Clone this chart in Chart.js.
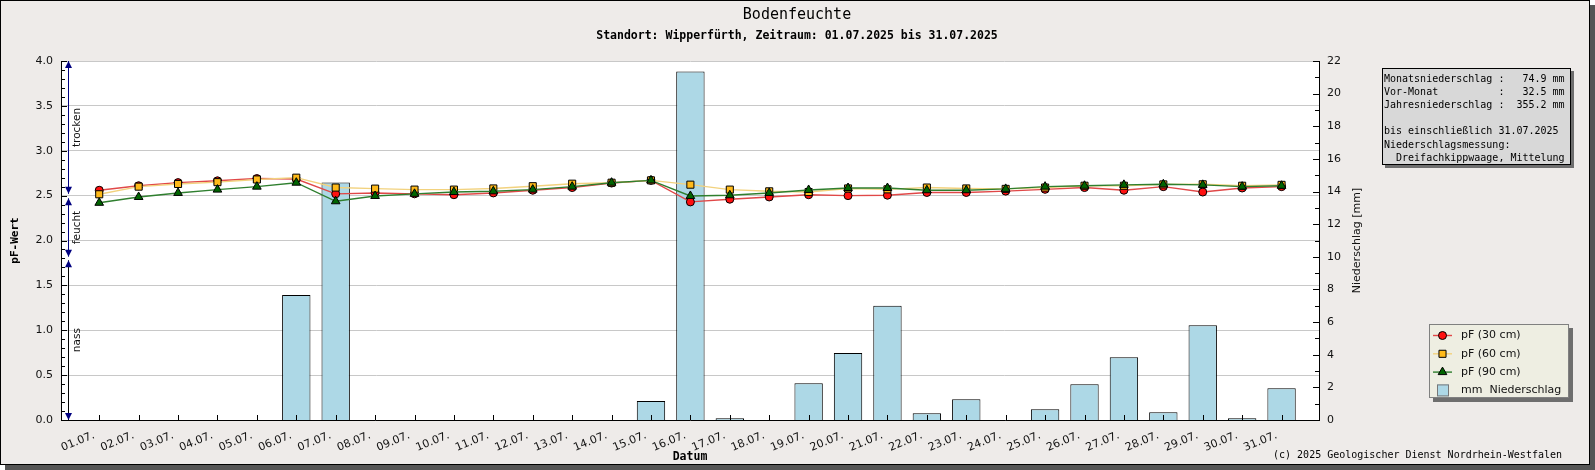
<!DOCTYPE html>
<html>
<head>
<meta charset="utf-8">
<title>Bodenfeuchte Wipperfürth</title>
<script src="https://cdn.jsdelivr.net/npm/chart.js@4.4.1/dist/chart.umd.min.js"></script>
<style>
    html, body { margin: 0; padding: 0; background: #fff; }
    #wrap { width: 1595px; height: 470px; }
</style>
</head>
<body>
<div id="wrap"><canvas id="bodenChart" width="1595" height="470"></canvas></div>
<script>
// Tage im Juli 2025
const days = [1, 2, 3, 4, 5, 6, 7, 8, 9, 10, 11, 12, 13, 14, 15, 16,
              17, 18, 19, 20, 21, 22, 23, 24, 25, 26, 27, 28, 29, 30, 31];
const dayLabels = ['01.07.', '02.07.', '03.07.', '04.07.', '05.07.', '06.07.', '07.07.', '08.07.',
                   '09.07.', '10.07.', '11.07.', '12.07.', '13.07.', '14.07.', '15.07.', '16.07.',
                   '17.07.', '18.07.', '19.07.', '20.07.', '21.07.', '22.07.', '23.07.', '24.07.',
                   '25.07.', '26.07.', '27.07.', '28.07.', '29.07.', '30.07.', '31.07.'];

// pF-Werte je Tiefe
const pf30 = [2.56, 2.61, 2.645, 2.665, 2.69, 2.685, 2.52, 2.53, 2.52, 2.51, 2.53, 2.56, 2.59, 2.64, 2.67, 2.43,
              2.46, 2.485, 2.51, 2.50, 2.505, 2.535, 2.535, 2.55, 2.57, 2.59, 2.56, 2.60, 2.54, 2.585, 2.60];
const pf60 = [2.515, 2.60, 2.63, 2.65, 2.68, 2.70, 2.59, 2.578, 2.567, 2.567, 2.58, 2.605, 2.633, 2.644, 2.67, 2.622,
              2.567, 2.548, 2.54, 2.58, 2.57, 2.59, 2.58, 2.575, 2.59, 2.61, 2.61, 2.625, 2.626, 2.61, 2.62];
const pf90 = [2.42, 2.485, 2.53, 2.567, 2.60, 2.644, 2.437, 2.496, 2.52, 2.54, 2.548, 2.567, 2.60, 2.644, 2.67, 2.496,
              2.504, 2.53, 2.563, 2.585, 2.585, 2.56, 2.56, 2.575, 2.60, 2.61, 2.62, 2.626, 2.62, 2.60, 2.61];

// Niederschlag [mm] pro Tag
const rain = [0, 0, 0, 0, 0, 7.66, 14.56, 0, 0, 0, 0, 0, 0, 0, 1.16, 21.35,
              0.1, 0, 2.25, 4.1, 7.0, 0.41, 1.27, 0, 0.66, 2.19, 3.84, 0.47, 5.8, 0.1, 1.94];

const pfTicks = [0, 0.5, 1.0, 1.5, 2.0, 2.5, 3.0, 3.5, 4.0];
const rainTicks = [0, 2, 4, 6, 8, 10, 12, 14, 16, 18, 20, 22];

// Bereiche am linken Rand (pF von / bis)
const zoneNames = ['trocken', 'feucht', 'nass'];
const zoneTop = [4.0, 2.47, 1.78];
const zoneBottom = [2.52, 1.82, 0.0];

const seriesNames = ['pF (30 cm)', 'pF (60 cm)', 'pF (90 cm)', 'mm  Niederschlag'];

const infoLines = [
    'Monatsniederschlag :   74.9 mm',
    'Vor-Monat          :   32.5 mm',
    'Jahresniederschlag :  355.2 mm',
    '',
    'bis einschließlich 31.07.2025',
    'Niederschlagsmessung:',
    '  Dreifachkippwaage, Mittelung'
];

const MONO = '"DejaVu Sans Mono", "Liberation Mono", monospace';
const SANS = '"DejaVu Sans", sans-serif';

function drawMarker(ctx, style, x, y, r, fill) {
    ctx.save();
    ctx.fillStyle = fill;
    ctx.strokeStyle = '#000';
    ctx.lineWidth = 1;
    ctx.beginPath();
    if (style === 'circle') {
        ctx.arc(x, y, r, 0, Math.PI * 2);
    } else if (style === 'rect') {
        const s = r * Math.SQRT1_2;
        ctx.rect(x - s, y - s, 2 * s, 2 * s);
    } else {
        ctx.moveTo(x, y - r);
        ctx.lineTo(x + r * 0.866, y + r * 0.5);
        ctx.lineTo(x - r * 0.866, y + r * 0.5);
        ctx.closePath();
    }
    ctx.fill();
    ctx.stroke();
    ctx.restore();
}

function arrowHead(ctx, x, tipY, dir) {
    // dir: -1 = Spitze nach oben, 1 = Spitze nach unten
    ctx.beginPath();
    ctx.moveTo(x, tipY);
    ctx.lineTo(x - 3.5, tipY - dir * 7);
    ctx.lineTo(x + 3.5, tipY - dir * 7);
    ctx.closePath();
    ctx.fill();
}

const decor = {
    id: 'decor',
    beforeDraw(chart) {
        const ctx = chart.ctx;
        const a = chart.chartArea;
        ctx.save();
        ctx.fillStyle = '#fff';
        ctx.fillRect(0, 0, 1595, 470);
        ctx.fillStyle = '#555';
        ctx.fillRect(5, 5, 1590, 465);
        ctx.fillStyle = '#EEEBE9';
        ctx.fillRect(0, 0, 1590, 465);
        ctx.strokeStyle = '#000';
        ctx.lineWidth = 1;
        ctx.strokeRect(0.5, 0.5, 1589, 464);
        ctx.fillStyle = '#fff';
        ctx.fillRect(a.left, a.top, a.right - a.left, a.bottom - a.top);
        ctx.restore();
    },
    afterDraw(chart) {
        const ctx = chart.ctx;
        const a = chart.chartArea;
        const xS = chart.scales.x, yS = chart.scales.y, y2S = chart.scales.y2;
        ctx.save();

        // Teilstriche nach innen
        ctx.strokeStyle = '#000';
        ctx.lineWidth = 1;
        ctx.beginPath();
        for (let i = 0; i <= 40; i++) {
            const py = Math.round(yS.getPixelForValue(i / 10)) + 0.5;
            const len = i % 5 === 0 ? 6 : 4;
            ctx.moveTo(a.left, py);
            ctx.lineTo(a.left + len, py);
        }
        for (let v = 0; v <= 22; v++) {
            const py = Math.round(y2S.getPixelForValue(v)) + 0.5;
            const len = v % 2 === 0 ? 6 : 4;
            ctx.moveTo(a.right, py);
            ctx.lineTo(a.right - len, py);
        }
        days.forEach(d => {
            const px = Math.round(xS.getPixelForValue(d)) + 0.5;
            ctx.moveTo(px, a.bottom);
            ctx.lineTo(px, a.bottom - 5);
        });
        ctx.stroke();

        // trocken / feucht / nass
        const zx = a.left + 7.5;
        zoneNames.forEach((name, i) => {
            const t = yS.getPixelForValue(zoneTop[i]);
            const b = yS.getPixelForValue(zoneBottom[i]);
            ctx.strokeStyle = i < 2 ? '#000080' : '#000';
            ctx.beginPath();
            ctx.moveTo(zx, t);
            ctx.lineTo(zx, b);
            ctx.stroke();
            ctx.fillStyle = '#000080';
            arrowHead(ctx, zx, t, -1);
            arrowHead(ctx, zx, b, 1);
            ctx.save();
            ctx.translate(zx + 8.5, (t + b) / 2);
            ctx.rotate(-Math.PI / 2);
            ctx.fillStyle = '#111';
            ctx.font = '10.5px ' + SANS;
            ctx.textAlign = 'center';
            ctx.textBaseline = 'middle';
            ctx.fillText(name, 0, 0);
            ctx.restore();
        });

        // Titel
        ctx.fillStyle = '#000';
        ctx.textAlign = 'center';
        ctx.textBaseline = 'middle';
        ctx.font = '15px ' + MONO;
        ctx.fillText('Bodenfeuchte', 797, 15);
        ctx.font = 'bold 11.5px ' + MONO;
        ctx.fillText('Standort: Wipperfürth, Zeitraum: 01.07.2025 bis 31.07.2025', 797, 36);
        ctx.fillText('Datum', (a.left + a.right) / 2, 457);

        ctx.save();
        ctx.translate(15, (a.top + a.bottom) / 2);
        ctx.rotate(-Math.PI / 2);
        ctx.font = 'bold 11px ' + MONO;
        ctx.fillText('pF-Wert', 0, 0);
        ctx.restore();

        ctx.save();
        ctx.translate(1357, (a.top + a.bottom) / 2);
        ctx.rotate(-Math.PI / 2);
        ctx.font = '11px ' + SANS;
        ctx.fillStyle = '#111';
        ctx.fillText('Niederschlag [mm]', 0, 0);
        ctx.restore();

        // Infokasten
        ctx.fillStyle = '#6E6E6E';
        ctx.fillRect(1385, 71, 189, 97);
        ctx.fillStyle = '#D8D8D8';
        ctx.fillRect(1382, 68, 189, 97);
        ctx.strokeStyle = '#000';
        ctx.strokeRect(1382.5, 68.5, 188, 96);
        ctx.fillStyle = '#000';
        ctx.font = '10px ' + MONO;
        ctx.textAlign = 'left';
        infoLines.forEach((line, i) => ctx.fillText(line, 1384, 79.5 + i * 13.1));

        // Legende
        ctx.fillStyle = '#6E6E6E';
        ctx.fillRect(1433, 328, 140, 74);
        ctx.fillStyle = '#EEEEE2';
        ctx.fillRect(1429, 324, 140, 74);
        ctx.strokeStyle = '#808080';
        ctx.strokeRect(1429.5, 324.5, 139, 73);
        ctx.font = '11px ' + SANS;
        chart.data.datasets.forEach((ds, i) => {
            const ly = 335.5 + i * 18.3;
            if (ds.type === 'line') {
                ctx.strokeStyle = ds.borderColor;
                ctx.lineWidth = 1.4;
                ctx.beginPath();
                ctx.moveTo(1433, ly);
                ctx.lineTo(1452, ly);
                ctx.stroke();
                drawMarker(ctx, ds.pointStyle, 1442.5, ly, ds.pointRadius, ds.pointBackgroundColor);
            } else {
                ctx.fillStyle = ds.backgroundColor;
                ctx.fillRect(1437, ly - 6, 12, 12);
                ctx.strokeStyle = '#777';
                ctx.lineWidth = 1;
                ctx.strokeRect(1437.5, ly - 5.5, 11, 11);
            }
            ctx.fillStyle = '#111';
            ctx.fillText(ds.label, 1461, ly);
        });

        // Copyright
        ctx.fillStyle = '#000';
        ctx.font = '10px ' + MONO;
        ctx.textAlign = 'right';
        ctx.fillText('(c) 2025 Geologischer Dienst Nordrhein-Westfalen', 1562, 455);
        ctx.restore();
    }
};

const lineSet = (label, values, color, markerFill, style, radius) => ({
    type: 'line',
    label: label,
    data: days.map((d, i) => ({ x: d, y: values[i] })),
    yAxisID: 'y',
    borderColor: color,
    borderWidth: 1.4,
    tension: 0,
    fill: false,
    pointStyle: style,
    pointRadius: radius,
    pointBackgroundColor: markerFill,
    pointBorderColor: '#000',
    pointBorderWidth: 1
});

const ds30 = lineSet(seriesNames[0], pf30, '#E04848', '#FF1010', 'circle', 4);
const ds60 = lineSet(seriesNames[1], pf60, '#F2D27E', '#FFBA1A', 'rect', 5);
const ds90 = lineSet(seriesNames[2], pf90, '#2F7F2F', '#006400', 'triangle', 5);
ds30.order = 3;
ds60.order = 2;
ds90.order = 1;

const tickFont = { family: SANS, size: 11 };

new Chart(document.getElementById('bodenChart').getContext('2d'), {
    type: 'bar',
    data: {
        datasets: [
            ds30, ds60, ds90,
            {
                type: 'bar',
                label: seriesNames[3],
                data: days.map((d, i) => ({ x: d, y: rain[i] > 0 ? rain[i] : null })),
                yAxisID: 'y2',
                backgroundColor: '#ADD8E6',
                borderColor: '#000',
                borderWidth: 1,
                categoryPercentage: 0.8,
                barPercentage: 0.9,
                order: 4
            }
        ]
    },
    options: {
        responsive: false,
        animation: false,
        devicePixelRatio: 1,
        events: [],
        layout: { padding: { top: 61, left: 0, right: 0, bottom: 0 } },
        plugins: {
            legend: { display: false },
            title: { display: false },
            tooltip: { enabled: false }
        },
        scales: {
            x: {
                type: 'linear',
                min: 0.03,
                max: 31.95,
                offset: false,
                grid: { display: false, drawTicks: false, offset: false },
                border: { display: true, color: '#000', width: 1 },
                afterBuildTicks: s => { s.ticks = days.map(d => ({ value: d })); },
                afterFit: s => { s.height = 50; },
                ticks: {
                    autoSkip: false,
                    minRotation: 22,
                    maxRotation: 22,
                    padding: 9,
                    labelOffset: -5,
                    color: '#111',
                    font: tickFont,
                    callback: (v, i) => dayLabels[i]
                }
            },
            y: {
                position: 'left',
                min: 0,
                max: 4,
                grid: { color: '#C8C8C8', lineWidth: 1, drawTicks: false },
                border: { display: true, color: '#000', width: 1 },
                afterBuildTicks: s => { s.ticks = pfTicks.map(v => ({ value: v })); },
                afterFit: s => { s.width = 61; },
                ticks: {
                    padding: 8,
                    color: '#111',
                    font: tickFont,
                    callback: v => v.toFixed(1)
                }
            },
            y2: {
                position: 'right',
                min: 0,
                max: 22,
                grid: { display: false, drawTicks: false },
                border: { display: true, color: '#000', width: 1 },
                afterBuildTicks: s => { s.ticks = rainTicks.map(v => ({ value: v })); },
                afterFit: s => { s.width = 276; },
                ticks: {
                    padding: 8,
                    color: '#111',
                    font: tickFont,
                    callback: v => String(v)
                }
            }
        }
    },
    plugins: [decor]
});
</script>
</body>
</html>
